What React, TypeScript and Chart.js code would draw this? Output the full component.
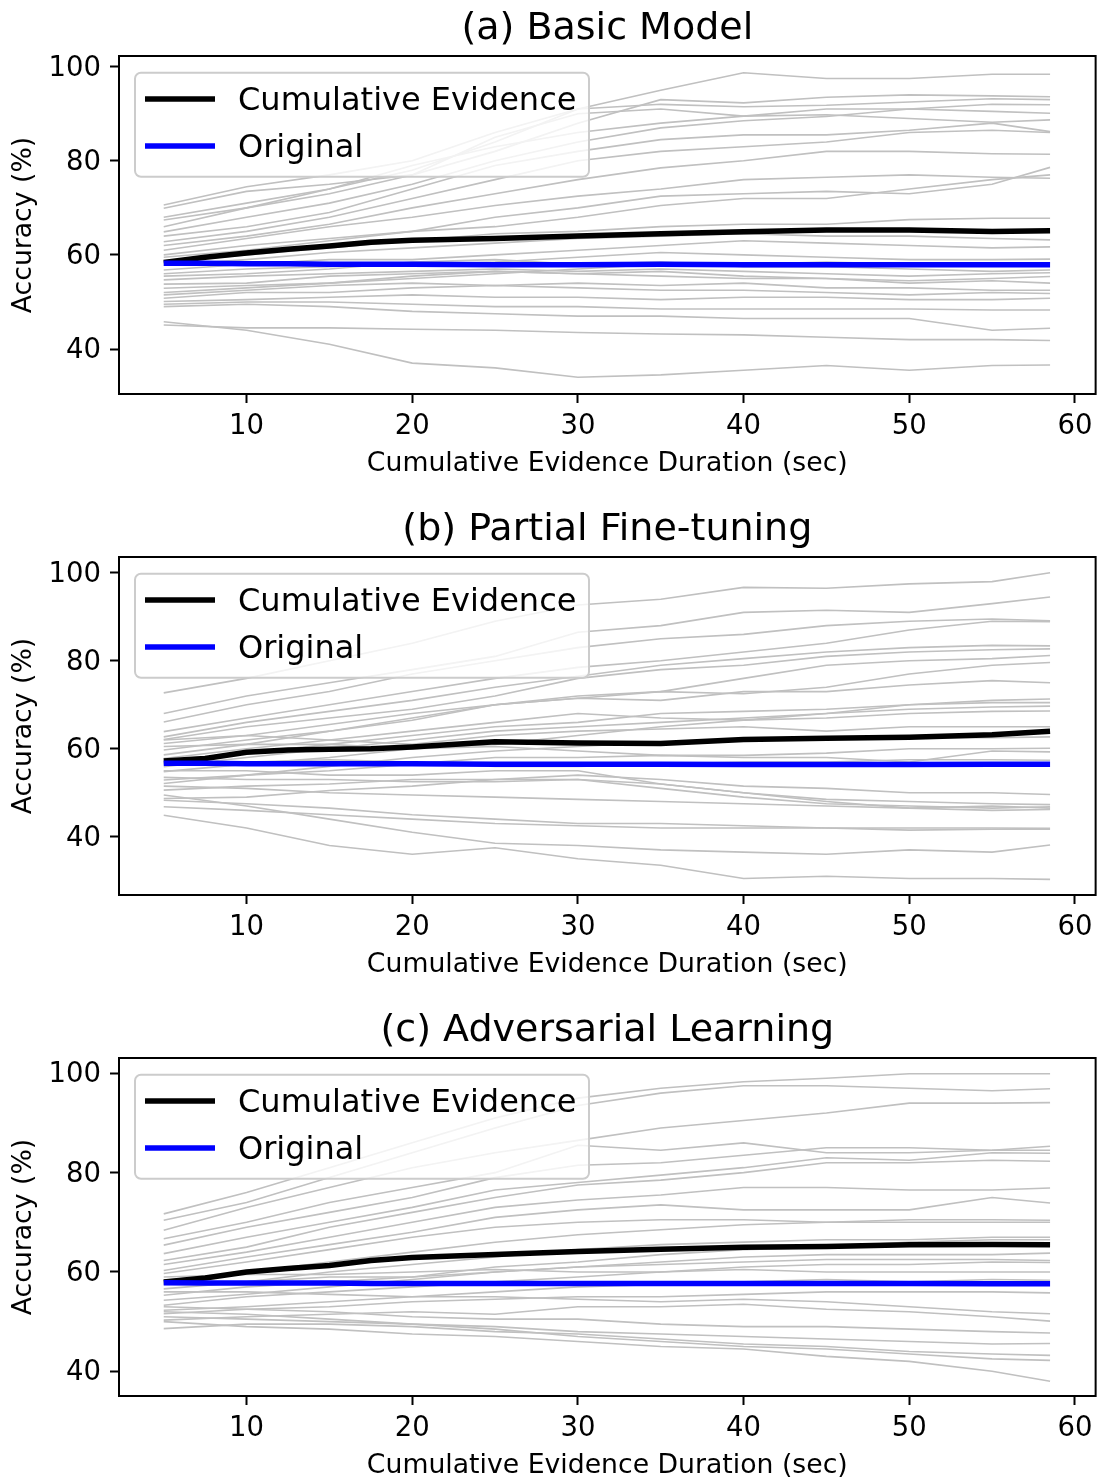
import React, { useEffect, useRef } from "react";
import { Chart, registerables } from "chart.js";

Chart.register(...registerables);

// ---------- data ----------
const X_GRAY = [5, 10, 15, 20, 25, 30, 35, 40, 45, 50, 55, 58.5];
const X_MEAN = [5, 7.5, 10, 12.5, 15, 17.5, 20, 25, 30, 35, 40, 45, 50, 55, 58.5];
const X_TICKS = [10, 20, 30, 40, 50, 60];
const Y_TICKS = [40, 60, 80, 100];
const LEGEND_LABELS = ["Cumulative Evidence", "Original"];
const TITLES = ["(a) Basic Model", "(b) Partial Fine-tuning", "(c) Adversarial Learning"];
const X_LABEL = "Cumulative Evidence Duration (sec)";
const Y_LABEL = "Accuracy (%)";

const A_CUMULATIVE = [58.4, 59.5, 60.4, 61.2, 61.9, 62.7, 63.1, 63.5, 64.0, 64.5, 64.9, 65.3, 65.3, 65.0, 65.15];
const A_ORIGINAL = [58.2, 58.2, 58.1, 58.1, 58.0, 58.0, 58.0, 57.9, 57.9, 58.0, 57.9, 57.9, 57.9, 57.9, 57.9];
const A_SUBJECTS = [
  [70.6, 74.5, 77, 80, 86, 91, 95, 98.7, 97.5, 97.5, 98.4, 98.4],
  [69.9, 73.5, 75, 77, 82, 88, 93, 92.3, 93.5, 94, 93.8, 93.6],
  [68.0, 71, 74, 78, 84, 91, 92, 91.5, 91.8, 92.5, 93.2, 93.0],
  [66.0, 70, 73, 77, 85, 90, 91, 89.5, 91, 91, 92, 91.9],
  [64.9, 68, 71, 75, 80, 84, 87, 88.5, 89.4, 91, 90.5, 90.1],
  [67.4, 70, 74, 79, 83, 86, 88, 89.5, 89.8, 89, 88.2, 88.7],
  [64.0, 66, 69, 74, 79, 82, 84.5, 85.5, 85.5, 86.5, 88, 86.2],
  [62.8, 65, 68, 72, 76, 80, 82, 83, 84, 86, 86.5, 86.0],
  [62.0, 64, 66.5, 70, 73, 76, 78.5, 80, 82, 82, 81.5, 81.4],
  [61.0, 63.5, 66, 68, 70.5, 72.5, 74, 76, 76.5, 77, 76.5, 76.3],
  [60.0, 62, 63.5, 65, 68, 70, 72.5, 73, 73.5, 73, 75, 78.6],
  [59.5, 61, 63, 65, 66, 68, 70.5, 72, 72, 74, 76, 77],
  [58.5, 60, 61.5, 63, 64.5, 65, 66, 66.5, 66.5, 67.5, 67.8, 67.8],
  [57.8, 59, 60.5, 61.5, 62.5, 63.5, 64, 64.5, 64, 64, 63.5, 63.2],
  [56.8, 58, 59, 59, 60, 61, 62, 63, 62.5, 62, 61.5, 61.7],
  [56.0, 57, 57.5, 58, 58.5, 59.5, 60.5, 60, 59.5, 59, 59, 59.1],
  [55.5, 56, 57, 58.5, 59, 58, 58.5, 57.5, 57.5, 57, 56.5, 56.8],
  [54.7, 55.5, 56, 56.5, 57, 56.5, 57, 56.5, 56, 55.5, 56, 56.2],
  [53.8, 54, 55.5, 56, 56.5, 56, 56.5, 55.5, 55, 54.5, 55, 55.4],
  [52.9, 53.5, 54, 55.5, 56.5, 56, 55.5, 55, 55, 54, 54.5, 54.0],
  [51.5, 52.5, 53.5, 54, 53.5, 54, 53.5, 54, 53, 53, 52.5, 52.5],
  [50.8, 52, 52, 53, 53.5, 53, 52.5, 52.5, 52, 51.5, 52, 51.8],
  [50.1, 50.5, 51, 51.5, 51, 51, 50.5, 51, 51, 50.5, 50.5, 50.8],
  [49.5, 50, 50, 49.5, 49, 49, 48.5, 48.5, 48.5, 48.5, 48.3, 48.3],
  [49.0, 49.5, 49, 48, 47.5, 47, 47, 46.5, 46.5, 46.5, 44, 44.4],
  [45.8, 44, 41, 37, 36, 34, 34.5, 35.5, 36.5, 35.5, 36.5, 36.6],
  [45.1, 44.5, 44.5, 44.2, 44, 43.5, 43.2, 43, 42.5, 42, 42, 41.8],
  [52.0, 53, 54, 55, 56, 57, 58, 58, 58.5, 58, 58, 58.3],
];

const B_CUMULATIVE = [57.2, 57.8, 59.2, 59.7, 59.9, 60.0, 60.4, 61.6, 61.3, 61.2, 62.1, 62.4, 62.6, 63.2, 64.0];
const B_ORIGINAL = [56.7, 56.7, 56.6, 56.6, 56.6, 56.6, 56.6, 56.5, 56.5, 56.5, 56.4, 56.4, 56.4, 56.5, 56.5];
const B_SUBJECTS = [
  [72.7, 76, 80, 84, 89, 92.7, 94, 96.7, 96.5, 97.5, 98, 100],
  [68.0, 72, 75, 78, 81, 86.5, 88, 91, 91.5, 91, 93, 94.5],
  [66.1, 70, 73, 77, 80, 83, 85, 86, 88, 89, 89.5, 89.1],
  [63.9, 67, 70, 73, 76, 78.5, 80, 82, 84, 87, 89, 88.9],
  [62.7, 66, 68.5, 71, 74, 76.5, 79, 80.5, 82, 83, 83.5, 83.4],
  [62.1, 65, 67, 69, 72, 76, 78, 79, 81, 82, 82.5, 82.7],
  [61.2, 63, 65.5, 68, 70, 71.5, 73, 76, 79, 80, 80.5, 81.2],
  [59.7, 62, 64, 67, 70, 72, 73, 72.5, 74, 77, 79, 79.6],
  [58.6, 61, 64, 66.5, 70, 71.5, 71, 73, 73, 74.5, 75.5, 75.0],
  [57.8, 60, 62, 64, 66, 68, 67, 66.5, 68, 70, 71, 71.3],
  [57.0, 59, 61, 63, 65, 66, 68, 68.5, 69, 70, 70.5, 70.5],
  [55.9, 58, 60, 62, 64, 65, 66, 67, 68, 69, 69.5, 69.7],
  [54.8, 56.5, 58, 60, 61, 63, 65, 66.5, 67, 68, 68.5, 68.6],
  [62.0, 63, 62, 61, 63, 64, 64.5, 65, 64, 65, 65, 65.0],
  [52.9, 54, 56, 58, 59.5, 60.5, 61.5, 62, 62.5, 62.5, 62.5, 62.7],
  [60.5, 61, 61, 60, 60.5, 59.5, 58.5, 58.5, 59, 60, 60, 60.1],
  [52.1, 54, 55, 56.5, 58, 58, 58.5, 58, 58, 57, 59.5, 59.3],
  [56.5, 57, 57.5, 57, 56, 56, 56.5, 57, 57, 57.5, 57.5, 57.4],
  [50.6, 51.5, 52, 53, 53, 54, 53, 51.5, 51, 50, 50, 49.6],
  [55.0, 55, 54, 54, 55, 55, 52, 50, 48.5, 48, 47.5, 47.3],
  [53.5, 53, 53, 52.5, 52.5, 53, 51, 49, 47.5, 47, 46.5, 46.8],
  [48.7, 49, 50.5, 51.5, 53, 53, 52, 50, 48, 46.5, 46, 46.2],
  [48.3, 47.5, 46.5, 45, 44, 43, 43, 42.5, 42, 42, 42, 41.9],
  [46.8, 46, 45, 44, 43, 42.5, 42, 42, 42, 41.5, 41.7, 41.7],
  [44.9, 42, 38, 36, 37.5, 35, 33.5, 30.5, 31, 30.5, 30.5, 30.3],
  [49.5, 47, 44, 41, 38.5, 38, 37, 36.5, 36, 37, 36.5, 38.1],
  [51.5, 51, 50, 49.5, 49, 48.5, 48, 47.5, 47, 46.5, 47, 46.5],
];

const C_CUMULATIVE = [58.0, 58.8, 60.0, 60.7, 61.3, 62.3, 62.9, 63.5, 64.1, 64.6, 65.0, 65.15, 65.5, 65.55, 65.5];
const C_ORIGINAL = [57.85, 57.8, 57.8, 57.8, 57.8, 57.7, 57.7, 57.7, 57.7, 57.7, 57.7, 57.7, 57.7, 57.65, 57.65];
const C_SUBJECTS = [
  [71.7, 76, 81, 86, 91, 95, 97, 98.3, 99, 99.9, 99.9, 99.9],
  [70.4, 74, 79, 84, 89, 93.5, 96, 97.5, 97.5, 97, 96.5, 96.9],
  [68.4, 73, 77, 81, 84, 86.5, 89, 90.5, 92, 94, 94, 94.1],
  [66.7, 70, 74, 77, 80, 85.5, 84.5, 86, 84, 84, 84.5, 85.3],
  [65.4, 69, 72, 75, 79, 81.5, 82, 83.5, 85, 85, 84.5, 84.5],
  [63.7, 67, 70, 73, 76.5, 78, 79.5, 81, 83, 82.5, 84, 83.9],
  [62.3, 65, 69, 72, 75, 77.5, 78.5, 80, 82, 82, 82.5, 82.3],
  [61.5, 64, 67, 70, 73, 74.5, 75.5, 77, 77, 76.5, 76.5, 76.9],
  [60.3, 63, 65.5, 68, 71, 72.5, 73.5, 72.5, 72.5, 72.5, 75, 73.9],
  [59.7, 62, 64.5, 67, 69, 70, 70.5, 70.5, 70, 70.5, 70.5, 70.4],
  [58.3, 60, 62, 64, 66, 67.5, 68.5, 69.5, 70, 70, 70, 70.0],
  [56.6, 58, 60, 61.5, 63, 64.5, 65.5, 66, 66.5, 66.5, 67, 67.0],
  [55.3, 57, 58, 59, 61, 62, 63.5, 64.5, 65, 66, 66.5, 66.5],
  [54.3, 55.5, 57, 58.5, 60, 61, 62, 63, 63.5, 63.5, 63.5, 63.8],
  [57.5, 58, 59, 59, 60, 61, 61.5, 62, 62.5, 62.5, 62.5, 62.3],
  [53.3, 55, 56, 57, 58, 59, 60, 61, 61.5, 61.5, 62, 61.9],
  [59.0, 59.5, 59.5, 60, 60.5, 60, 60, 60.5, 60, 60, 60, 60.0],
  [52.3, 53, 54, 55, 56, 57, 57.5, 58, 58.5, 58, 58.5, 58.3],
  [51.6, 52.5, 53, 54, 54.5, 55, 55, 55.5, 56, 56, 56, 55.8],
  [56.0, 56, 55.5, 55, 55, 54.5, 54, 54.5, 54, 53, 52, 51.6],
  [50.3, 51, 51.5, 52, 51.5, 53, 53, 53.5, 52.5, 52, 51, 50.1],
  [53.0, 52.5, 52, 51, 50.5, 50.5, 49.5, 49, 49, 48.5, 48, 47.7],
  [51.0, 50.5, 50, 49.5, 49, 48, 47.5, 47, 46.5, 46, 45.5, 45.6],
  [48.6, 49.5, 49.5, 49, 48, 47.5, 46.5, 45.5, 45, 44, 43.5, 43.2],
  [52.0, 51.5, 50.5, 49.5, 48.5, 47, 46, 45, 44.5, 43.5, 42.5, 42.2],
  [50.0, 49, 48.5, 47.5, 47, 46, 45, 44.5, 43, 42, 40, 38.0],
];

// axis ranges
const X_RANGE = [2.3, 61.25];
const Y_RANGES = [
  [30.44, 102.27],
  [26.75, 103.6],
  [35.03, 103.08],
];

// ---------- styling / layout ----------
const FONT = '"DejaVu Sans", "Liberation Sans", sans-serif';
const CANVAS_W = 1100;
const CANVAS_H = 480;
const PANEL_TOPS = [0, 501, 1002];
const GRAY = "#c0c0c0";
const LABEL_SIZE = 26.7;

const pairs = (xs: number[], ys: number[]) => xs.map((x, i) => ({ x, y: ys[i] }));

const decorPlugin = {
  id: "decor",
  afterDraw(chart: any, _args: any, opts: any) {
    const { ctx, chartArea: ca } = chart;
    ctx.save();
    // spines
    ctx.strokeStyle = "#000";
    ctx.lineWidth = 2;
    ctx.strokeRect(ca.left, ca.top, ca.right - ca.left, ca.bottom - ca.top);
    // title
    ctx.fillStyle = "#000";
    ctx.font = `38px ${FONT}`;
    ctx.textAlign = "center";
    ctx.textBaseline = "middle";
    ctx.fillText(opts.title, (ca.left + ca.right) / 2, ca.top - 27);
    // legend
    const bx = 135;
    const by = ca.top + 16.7;
    const bw = 454;
    const bh = 104;
    ctx.beginPath();
    (ctx as any).roundRect(bx, by, bw, bh, 6);
    ctx.fillStyle = "rgba(255,255,255,0.8)";
    ctx.fill();
    ctx.strokeStyle = "#cccccc";
    ctx.lineWidth = 2;
    ctx.stroke();
    const items = [
      { label: LEGEND_LABELS[0], color: "#000000", y: by + 26.3 },
      { label: LEGEND_LABELS[1], color: "#0000ff", y: by + 73.3 },
    ];
    ctx.lineCap = "butt";
    items.forEach((it) => {
      ctx.beginPath();
      ctx.strokeStyle = it.color;
      ctx.lineWidth = 5.5;
      ctx.moveTo(145, it.y);
      ctx.lineTo(215, it.y);
      ctx.stroke();
      ctx.fillStyle = "#000";
      ctx.font = `32px ${FONT}`;
      ctx.textAlign = "left";
      ctx.textBaseline = "middle";
      ctx.fillText(it.label, 238, it.y + 2.5);
    });
    ctx.restore();
  },
};

type PanelProps = {
  title: string;
  subjects: number[][];
  cumulative: number[];
  original: number[];
  yRange: number[];
  top: number;
};

function Panel({ title, subjects, cumulative, original, yRange, top }: PanelProps) {
  const ref = useRef<HTMLCanvasElement | null>(null);
  useEffect(() => {
    if (!ref.current) return;
    const datasets: any[] = [
      {
        label: LEGEND_LABELS[1],
        data: pairs(X_MEAN, original),
        borderColor: "#0000ff",
        borderWidth: 5.5,
        pointRadius: 0,
        tension: 0,
      },
      {
        label: LEGEND_LABELS[0],
        data: pairs(X_MEAN, cumulative),
        borderColor: "#000000",
        borderWidth: 5.5,
        pointRadius: 0,
        tension: 0,
        borderJoinStyle: "round",
      },
      ...subjects.map((s, i) => ({
        label: `subject ${i + 1}`,
        data: pairs(X_GRAY, s),
        borderColor: GRAY,
        borderWidth: 1.6,
        pointRadius: 0,
        tension: 0,
      })),
    ];
    const tickFont = { family: FONT, size: 27.5 };
    const chart = new Chart(ref.current, {
      type: "line",
      data: { datasets },
      plugins: [decorPlugin],
      options: {
        animation: false,
        responsive: false,
        devicePixelRatio: 1,
        events: [],
        layout: { padding: { top: 56, left: 0, right: 4, bottom: 0 } },
        plugins: {
          legend: { display: false },
          tooltip: { enabled: false },
          title: { display: false },
          decor: { title },
        } as any,
        scales: {
          x: {
            type: "linear",
            min: X_RANGE[0],
            max: X_RANGE[1],
            afterBuildTicks: (scale: any) => {
              scale.ticks = X_TICKS.map((v) => ({ value: v }));
            },
            afterFit: (scale: any) => {
              scale.height = CANVAS_H - 394;
            },
            ticks: {
              font: tickFont,
              color: "#000",
              padding: 7.5,
              maxRotation: 0,
              autoSkip: false,
              callback: (v: any) => String(v),
            },
            grid: {
              drawOnChartArea: false,
              drawTicks: true,
              tickLength: 9,
              tickWidth: 2,
              tickColor: "#000",
            },
            border: { display: false },
            title: {
              display: true,
              text: X_LABEL,
              font: { family: FONT, size: LABEL_SIZE },
              color: "#000",
              padding: { top: 0, bottom: 0 },
            },
          },
          y: {
            type: "linear",
            min: yRange[0],
            max: yRange[1],
            afterBuildTicks: (scale: any) => {
              scale.ticks = Y_TICKS.map((v) => ({ value: v }));
            },
            afterFit: (scale: any) => {
              scale.width = 119;
            },
            ticks: {
              font: tickFont,
              color: "#000",
              padding: 9,
              labelOffset: 2,
              autoSkip: false,
              callback: (v: any) => String(v),
            },
            grid: {
              drawOnChartArea: false,
              drawTicks: true,
              tickLength: 9,
              tickWidth: 2,
              tickColor: "#000",
            },
            border: { display: false },
            title: {
              display: true,
              text: Y_LABEL,
              font: { family: FONT, size: LABEL_SIZE },
              color: "#000",
              padding: { top: 8.5, bottom: 0 },
            },
          },
        },
      } as any,
    });
    return () => chart.destroy();
  }, [title, subjects, cumulative, original, yRange]);

  return (
    <canvas
      ref={ref}
      width={CANVAS_W}
      height={CANVAS_H}
      style={{ position: "absolute", left: 0, top, width: CANVAS_W, height: CANVAS_H }}
    />
  );
}

export default function App() {
  return (
    <div
      style={{
        position: "absolute",
        left: 0,
        top: 0,
        width: 1100,
        height: 1477,
        overflow: "hidden",
        background: "#ffffff",
      }}
    >
      <Panel title={TITLES[0]} subjects={A_SUBJECTS} cumulative={A_CUMULATIVE} original={A_ORIGINAL} yRange={Y_RANGES[0]} top={PANEL_TOPS[0]} />
      <Panel title={TITLES[1]} subjects={B_SUBJECTS} cumulative={B_CUMULATIVE} original={B_ORIGINAL} yRange={Y_RANGES[1]} top={PANEL_TOPS[1]} />
      <Panel title={TITLES[2]} subjects={C_SUBJECTS} cumulative={C_CUMULATIVE} original={C_ORIGINAL} yRange={Y_RANGES[2]} top={PANEL_TOPS[2]} />
    </div>
  );
}
